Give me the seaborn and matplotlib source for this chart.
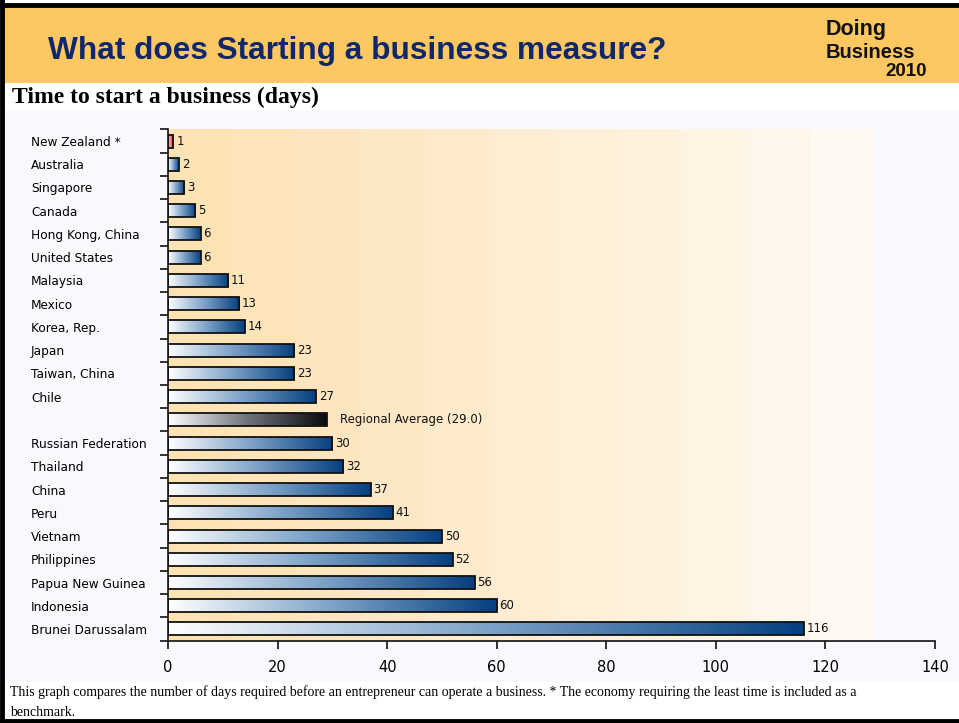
import numpy as np
import pandas as pd
import seaborn as sns
import matplotlib.pyplot as plt
from matplotlib.colors import LinearSegmentedColormap
from matplotlib.patches import Rectangle
from matplotlib.lines import Line2D

# data
countries = ["New Zealand *", "Australia", "Singapore", "Canada", "Hong Kong, China",
             "United States", "Malaysia", "Mexico", "Korea, Rep.", "Japan",
             "Taiwan, China", "Chile", "Regional Average", "Russian Federation",
             "Thailand", "China", "Peru", "Vietnam", "Philippines",
             "Papua New Guinea", "Indonesia", "Brunei Darussalam"]
days = [1, 2, 3, 5, 6, 6, 11, 13, 14, 23, 23, 27, 29.0, 30, 32, 37, 41, 50, 52, 56, 60, 116]
xticks = [0, 20, 40, 60, 80, 100, 120, 140]

df = pd.DataFrame({"country": countries, "days": days})

W, H = 959, 723
fig = plt.figure(figsize=(W / 100, H / 100), dpi=100)
fig.patch.set_facecolor("white")

def fx(px):
    return px / W

def fy(py):
    return 1 - py / H

# page decorations: header band, light panel, border
fig.patches.append(Rectangle((fx(4), fy(83)), fx(955), 76 / H, transform=fig.transFigure,
                             facecolor="#FDC862", edgecolor="none", zorder=-10))
fig.patches.append(Rectangle((fx(4), fy(682)), fx(955), 572 / H, transform=fig.transFigure,
                             facecolor="#F8F9FC", edgecolor="none", zorder=-10))
for xs, ys in [([0, 1], [fy(4.5), fy(4.5)]), ([fx(2), fx(2)], [0, 1]), ([0, 1], [fy(720.5), fy(720.5)])]:
    fig.lines.append(Line2D(xs, ys, transform=fig.transFigure, color="black", lw=3.5, zorder=10))

fig.text(fx(48), fy(51), "What does Starting a business measure?", fontsize=22.8,
         fontweight="bold", color="#10286B", family="Liberation Sans", va="center", ha="left")
fig.text(fx(826), fy(30), "Doing", fontsize=15.5, fontweight="bold", color="#111111",
         family="Liberation Sans", va="center", ha="left")
fig.text(fx(826), fy(52), "Business", fontsize=14.5, fontweight="bold", color="#111111",
         family="Liberation Sans", va="center", ha="left")
fig.text(fx(927), fy(72), "2010", fontsize=13.5, fontweight="bold", color="#111111",
         family="Liberation Sans", va="center", ha="right")
fig.text(fx(12), fy(97), "Time to start a business (days)", fontsize=17, fontweight="bold",
         family="Liberation Serif", va="center", ha="left")
fig.text(fx(10), fy(692), "This graph compares the number of days required before an entrepreneur can "
         "operate a business. * The economy requiring the least time is included as a",
         fontsize=10, family="Liberation Serif", va="center", ha="left")
fig.text(fx(10), fy(712), "benchmark.", fontsize=10, family="Liberation Serif", va="center", ha="left")

ax = fig.add_axes([fx(168), fy(640.6), fx(935 - 168), (640.6 - 129.4) / H])
ax.set_facecolor("none")

sns.barplot(data=df, x="days", y="country", orient="h", width=0.56, color="white",
            edgecolor="#111111", linewidth=1.3, ax=ax, zorder=3)

# stepped warm background band behind the bars
bg = LinearSegmentedColormap.from_list("bg", ["#FDE2B3", "#FFF9F1"])
ax.imshow(np.linspace(0, 1, 11).reshape(1, -1), cmap=bg, aspect="auto",
          extent=(0, 129, len(countries) - 0.5, -0.5), zorder=0, interpolation="nearest")

blue = LinearSegmentedColormap.from_list("blue", ["#FFFFFF", "#7EA3C8", "#053F80"])
red = LinearSegmentedColormap.from_list("red", ["#F6C9CC", "#D8283A"])
dark = LinearSegmentedColormap.from_list("dark", ["#FFFFFF", "#6E737A", "#0B0B0F"])
grad = np.linspace(0, 1, 256).reshape(1, -1)
for name, p in zip(countries, ax.patches):
    cmap = red if name.startswith("New Zealand") else dark if name == "Regional Average" else blue
    x0, y0, w, h = p.get_x(), p.get_y(), p.get_width(), p.get_height()
    im = ax.imshow(grad, cmap=cmap, aspect="auto", extent=(x0, x0 + w, y0 + h, y0),
                   zorder=2.5, interpolation="bilinear")
    im.set_clip_path(p)
    p.set_facecolor("none")

# value labels
for i, (name, v) in enumerate(zip(countries, days)):
    if name == "Regional Average":
        ax.text(31.4, i, "Regional Average (29.0)", fontsize=8.5, va="center", ha="left", color="#111111")
    else:
        ax.text(v + 0.5, i, f"{v:g}", fontsize=8.5, va="center", ha="left", color="#111111")

ax.set_xlim(0, 140)
ax.set_ylim(len(countries) - 0.5, -0.5)
ax.set_xticks(xticks)
ax.set_xticklabels([str(t) for t in xticks], fontsize=10.5)
ax.tick_params(axis="x", direction="out", length=6, width=1.2, pad=8, color="#111111")

ax.set_yticks(range(len(countries)))
ax.set_yticklabels([c if c != "Regional Average" else "" for c in countries], fontsize=8.7, ha="left")
ax.tick_params(axis="y", which="major", length=0, pad=137 * 0.72)
ax.set_yticks(np.arange(-0.5, len(countries)), minor=True)
ax.tick_params(axis="y", which="minor", length=6, width=1.2, color="#111111")
ax.set_xlabel("")
ax.set_ylabel("")
for s in ["top", "right"]:
    ax.spines[s].set_visible(False)
for s in ["left", "bottom"]:
    ax.spines[s].set_linewidth(1.2)
    ax.spines[s].set_color("#111111")

fig.savefig("out.png", dpi=100)
